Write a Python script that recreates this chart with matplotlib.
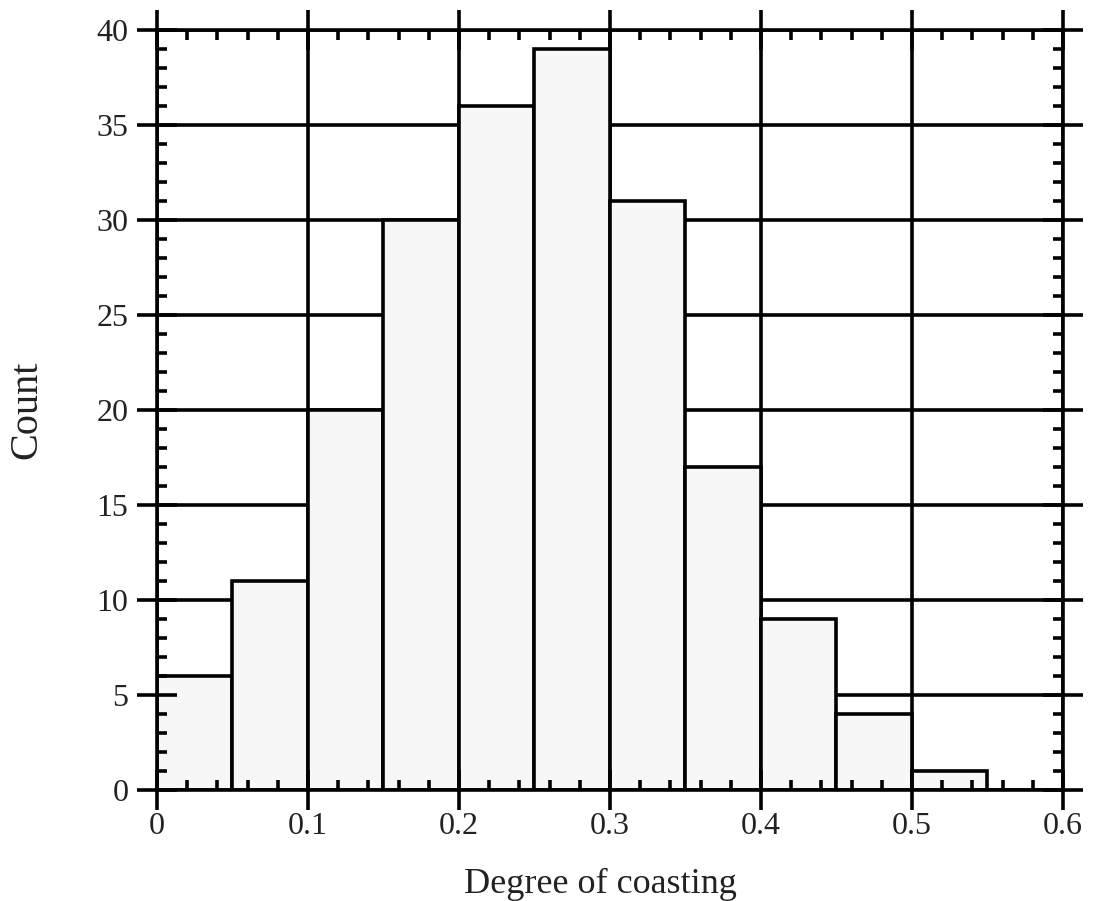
import numpy as np
import matplotlib.pyplot as plt
from matplotlib.ticker import MultipleLocator

# --- histogram data: degree of coasting, bins of width 0.05 ---
bin_edges = [0.0, 0.05, 0.10, 0.15, 0.20, 0.25, 0.30, 0.35, 0.40, 0.45, 0.50, 0.55]
counts = [6, 11, 20, 30, 36, 39, 31, 17, 9, 4, 1]
x_ticks = [0.0, 0.1, 0.2, 0.3, 0.4, 0.5, 0.6]
x_tick_labels = ["0", "0.1", "0.2", "0.3", "0.4", "0.5", "0.6"]
y_ticks = [0, 5, 10, 15, 20, 25, 30, 35, 40]

LW = 2.6
TEXT = "#222222"
plt.rcParams["font.family"] = ["Liberation Serif", "DejaVu Serif"]

fig = plt.figure(figsize=(10.93, 9.01), dpi=100)
ax = fig.add_axes([0.1436, 0.1232, 0.8289, 0.8435])

# grid behind the bars, ticks stay on top
ax.hlines(y_ticks, x_ticks[0], x_ticks[-1], colors="black", lw=LW, zorder=0.5)
ax.vlines(x_ticks, y_ticks[0], y_ticks[-1], colors="black", lw=LW, zorder=0.5)

lefts = np.array(bin_edges[:-1])
widths = np.diff(bin_edges)
ax.bar(lefts, counts, width=widths, align="edge", color="#f7f7f7",
       edgecolor="black", linewidth=LW, zorder=1)

ax.set_xlim(x_ticks[0], x_ticks[-1])
ax.set_ylim(y_ticks[0], y_ticks[-1])
ax.set_xticks(x_ticks)
ax.set_xticklabels(x_tick_labels)
ax.set_yticks(y_ticks)
ax.xaxis.set_minor_locator(MultipleLocator(0.02))
ax.yaxis.set_minor_locator(MultipleLocator(1))

ax.tick_params(which="major", direction="inout", length=29, width=LW,
               top=True, right=True, labelsize=23, labelcolor=TEXT,
               color="black")
ax.tick_params(axis="x", which="major", pad=1)
ax.tick_params(axis="y", which="major", pad=6)
ax.tick_params(which="minor", direction="in", length=7.5, width=LW,
               top=True, right=True, color="black")
for s in ax.spines.values():
    s.set_linewidth(LW)

ax.set_xlabel("Degree of coasting", fontsize=26, color=TEXT, labelpad=20)
ax.xaxis.label.set_x(0.49)
ax.set_ylabel("Count", fontsize=29, color=TEXT, labelpad=37)

fig.savefig("out.png", dpi=100)
